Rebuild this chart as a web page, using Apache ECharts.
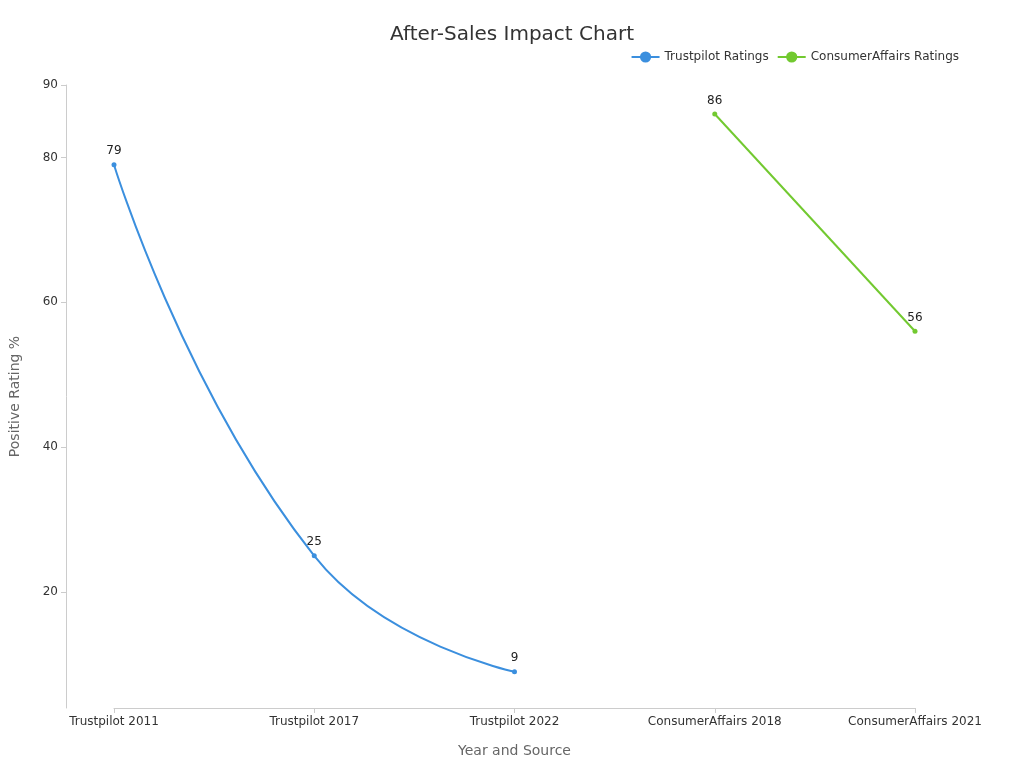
<!DOCTYPE html>
<html>
<head>
<meta charset="utf-8">
<script src="https://cdn.jsdelivr.net/npm/echarts@6/dist/echarts.min.js"></script>
<style>html,body{margin:0;padding:0;background:#fff}#main{width:1024px;height:768px}</style>
</head>
<body>
<div id="main"></div>
<script>
const categories = ['Trustpilot 2011', 'Trustpilot 2017', 'Trustpilot 2022', 'ConsumerAffairs 2018', 'ConsumerAffairs 2021'];
const trustpilot = [79, 25, 9, null, null];
const consumerAffairs = [null, null, null, 86, 56];

var myChart = echarts.init(document.getElementById('main'));

var option = {
    textStyle: { fontFamily: 'DejaVu Sans' },
    title: {
        text: 'After-Sales Impact Chart',
        left: 'center',
        top: 20,
        textStyle: { fontSize: 20, fontWeight: 'normal', color: '#333' }
    },
    legend: {
        top: 46,
        right: 60,
        itemWidth: 28,
        textStyle: { fontSize: 12, color: '#333' },
        data: ['Trustpilot Ratings', 'ConsumerAffairs Ratings']
    },
    grid: { left: 108, right: 109, top: 85, bottom: 60 },
    xAxis: {
        type: 'category',
        data: categories,
        boundaryGap: false,
        name: 'Year and Source',
        nameLocation: 'middle',
        nameGap: 36,
        nameTextStyle: { fontSize: 14, color: '#666' },
        axisLine: { lineStyle: { color: '#ccc' } },
        axisTick: { alignWithLabel: true, lineStyle: { color: '#ccc' } },
        axisLabel: { color: '#333', fontSize: 12 }
    },
    yAxis: {
        type: 'value',
        min: 4,
        max: 90,
        offset: 48,
        name: 'Positive Rating %',
        nameLocation: 'middle',
        nameGap: 44,
        nameTextStyle: { fontSize: 14, color: '#666' },
        axisLine: { show: true, lineStyle: { color: '#ccc' } },
        axisTick: { show: true, lineStyle: { color: '#ccc' } },
        axisLabel: { color: '#333', fontSize: 12, showMinLabel: false },
        splitLine: { show: false }
    },
    series: [
        {
            name: 'Trustpilot Ratings',
            type: 'line',
            smooth: true,
            data: trustpilot,
            symbol: 'circle',
            symbolSize: 5,
            itemStyle: { color: '#3b8fde' },
            lineStyle: { width: 2 },
            label: { show: true, position: 'top', color: '#222', fontSize: 12 }
        },
        {
            name: 'ConsumerAffairs Ratings',
            type: 'line',
            data: consumerAffairs,
            symbol: 'circle',
            symbolSize: 5,
            itemStyle: { color: '#72c930' },
            lineStyle: { width: 2 },
            label: { show: true, position: 'top', color: '#222', fontSize: 12 }
        }
    ]
};

myChart.setOption(option);
</script>
</body>
</html>
